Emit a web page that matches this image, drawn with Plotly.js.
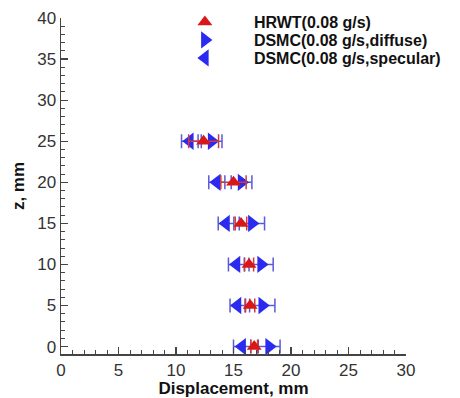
<!DOCTYPE html>
<html>
<head>
<meta charset="utf-8">
<script src="https://cdn.plot.ly/plotly-3.0.1.min.js"></script>
<style>html,body{margin:0;padding:0;background:#fff;}</style>
</head>
<body>
<div id="chart" style="width:460px;height:398px;"></div>
<script>
// Data (z, mm) and displacement (mm)
var zValues = [0, 5, 10, 15, 20, 25];
var hrwtDisp = [16.8, 16.45, 16.35, 15.65, 15.0, 12.4];
var hrwtErr = [0.3, 0.4, 0.4, 0.5, 1.1, 1.3];
var diffuseDisp = [18.1, 17.5, 17.4, 16.6, 15.7, 13.1];
var diffuseErr = [0.95, 1.1, 1.05, 1.1, 0.9, 0.9];
var specularDisp = [15.75, 15.35, 15.26, 14.35, 13.55, 11.2];
var specularErr = [0.75, 0.65, 0.7, 0.68, 0.7, 0.72];
var names = ['HRWT(0.08 g/s)', 'DSMC(0.08 g/s,diffuse)', 'DSMC(0.08 g/s,specular)'];
var xTickVals = [0, 5, 10, 15, 20, 25, 30];
var yTickVals = [0, 5, 10, 15, 20, 25, 30, 35, 40];

var blueBar = '#5b5bd6';
var redBar = '#d23a3a';
var ff = 'Liberation Sans, Arial, Helvetica, sans-serif';

var traces = [
  {
    x: diffuseDisp, y: zValues, name: names[1], type: 'scatter', mode: 'markers',
    marker: {symbol: 'triangle-right', size: 15, color: '#2a2af0'},
    error_x: {type: 'data', array: diffuseErr, visible: true, color: blueBar, thickness: 1.5, width: 7},
    legend: 'legend2'
  },
  {
    x: specularDisp, y: zValues, name: names[2], type: 'scatter', mode: 'markers',
    marker: {symbol: 'triangle-left', size: 15, color: '#2a2af0'},
    error_x: {type: 'data', array: specularErr, visible: true, color: blueBar, thickness: 1.5, width: 7},
    legend: 'legend3'
  },
  {
    x: hrwtDisp, y: zValues, name: names[0], type: 'scatter', mode: 'markers',
    marker: {symbol: 'triangle-up', size: 13, color: '#d81818'},
    error_x: {type: 'data', array: hrwtErr, visible: true, color: redBar, thickness: 1.5, width: 7},
    legend: 'legend'
  }
];

function leg(yy) {
  return {
    x: 0.275, y: yy, xref: 'paper', yref: 'paper', xanchor: 'left', yanchor: 'middle',
    bgcolor: 'rgba(0,0,0,0)', borderwidth: 0, itemwidth: 88,
    font: {family: ff, size: 16, color: '#111', weight: 'bold'}
  };
}

var layout = {
  width: 460, height: 398,
  margin: {l: 61, r: 53.5, t: 18, b: 44, autoexpand: false},
  paper_bgcolor: '#fff', plot_bgcolor: '#fff',
  showlegend: true,
  legend: leg(1.0 - (22 - 18) / 336),
  legend2: leg(1.0 - (40 - 18) / 336),
  legend3: leg(1.0 - (58 - 18) / 336),
  xaxis: {
    range: [0, 30], tickvals: xTickVals, ticks: 'inside', ticklen: 7, tickwidth: 1.3, tickcolor: '#444',
    minor: {dtick: 1, ticks: 'inside', ticklen: 4, tickwidth: 1, tickcolor: '#444'},
    showline: true, linecolor: '#444', linewidth: 1.5, mirror: false, showgrid: false, zeroline: false,
    tickfont: {family: ff, size: 17, color: '#333'},
    title: {text: 'Displacement, mm', font: {family: ff, size: 17, color: '#111', weight: 'bold'}, standoff: 4}
  },
  yaxis: {
    range: [-0.9, 40], tickvals: yTickVals, ticks: 'inside', ticklen: 7, tickwidth: 1.3, tickcolor: '#444',
    minor: {dtick: 1, ticks: 'inside', ticklen: 4, tickwidth: 1, tickcolor: '#444'},
    showline: true, linecolor: '#444', linewidth: 1.5, mirror: false, showgrid: false, zeroline: false,
    tickfont: {family: ff, size: 17, color: '#333'},
    title: {text: 'z, mm', font: {family: ff, size: 17, color: '#111', weight: 'bold'}, standoff: 8}
  }
};

Plotly.newPlot('chart', traces, layout, {displayModeBar: false, staticPlot: true});
</script>
</body>
</html>
